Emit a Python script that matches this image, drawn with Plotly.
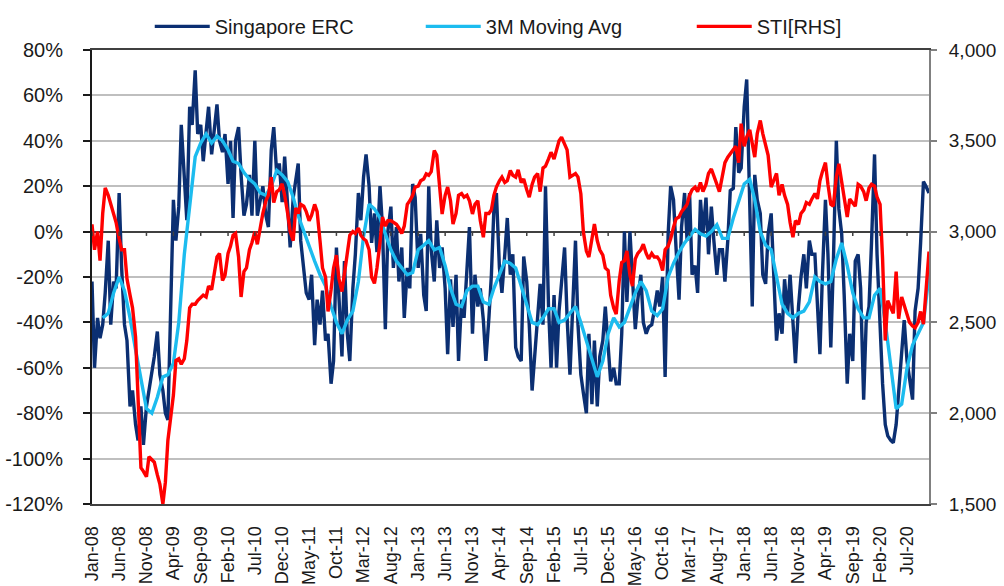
import pandas as pd
import plotly.graph_objects as go

# ---------------- data ----------------
# Singapore ERC (%), two readings per month from Jan-08, last one on 1-Nov-20
erc = [
    -22, -60, -38, -47, -41, -27, -4, -41, -22, -25, 17, -16,          # 2008 H1
    -41, -48, -77, -70, -85, -92, -77, -94, -77, -70, -63, -55,        # 2008 H2
    -44, -63, -70, -80, -83, -34, 14, -4, 11, 47, 25, 5,               # 2009 H1
    55, 47, 71, 43, 47, 31, 44, 55, 34, 45, 56, 40,                    # 2009 H2
    35, 43, 21, 40, 6, 40, 46, 25, 7, 12, 25, 7,                       # 2010 H1
    40, 7, 15, 20, 7, 2, 36, 46, 25, 30, 13, 33,                       # 2010 H2
    11, -7, 15, 22, 30, -4, -18, -27, -30, -19, -50, -30,              # 2011 H1
    -41, -26, -48, -45, -67, -57, -7, -30, -55, -13, -45, -57,         # 2011 H2
    -25, -10, 17, 5, 24, 34, 20, -5, 8, -9, 20, 2,                     # 2012 H1
    -43, 0, 11, -16, 2, -22, -7, -38, -16, -25, 21, 15,                # 2012 H2
    -16, -1, -28, -35, 20, -8, -22, 5, -16, -7, -25, -54,              # 2013 H1
    -21, -42, -19, -57, -30, -38, -13, 2, -45, -19, -33, -25,          # 2013 H2
    -39, -57, -38, -19, 10, 17, -16, -27, -10, 6, -19, -10,            # 2014 H1
    -51, -55, -57, -11, -22, -41, -70, -55, -33, -23, -41, 20,         # 2014 H2
    -33, -60, -28, -60, -35, -22, -7, -38, -63, -36, -4, -41,          # 2015 H1
    -63, -71, -80, -45, -76, -48, -77, -55, -48, -33, -51, -66,        # 2015 H2
    -60, -67, -67, -45, 0, -31, 0, -22, -43, -30, -19, -40,            # 2016 H1
    -45, -42, -41, -35, -26, -33, -20, -64, -1, 20, 14, -7,            # 2016 H2
    -30, 2, 17, -4, 17, -19, -15, -27, 14, -1, 15, -10,                # 2017 H1
    11, -4, -19, -8, -8, -22, -4, 18, 19, 46, 26, 28,                  # 2017 H2
    55, 67, 19, -33, 25, 14, 8, -19, -23, -1, 8, -22,                  # 2018 H1
    -48, -36, -45, -21, -36, -19, -40, -58, -33, -20, -10, -25,        # 2018 H2
    -4, -10, -10, -33, -54, -19, 14, -10, -51, -15, 40, 10,            # 2019 H1
    -1, -28, -67, -45, -57, -13, -10, -25, -74, -40, -33, -5,          # 2019 H2
    34, -10, -40, -67, -85, -90, -92, -93, -85, -70, -55, -39,         # 2020 H1
    -57, -65, -74, -35, -25, -5, 22, 20,                               # 2020 Jul-Oct
    17,                                                                # 1-Nov-20
]

# STI (index points, right axis), same dates as erc
sti = [
    3040, 2900, 3000, 2840, 3100, 3240, 3200, 3150, 3100, 3050, 2960, 2900,
    2900, 2740, 2650, 2580, 2420, 2050, 1700, 1680, 1650, 1760, 1740, 1730,
    1660, 1610, 1500, 1620, 1850, 1960, 2100, 2290, 2300, 2270, 2300, 2400,
    2580, 2600, 2600, 2620, 2640, 2650, 2640, 2700, 2680, 2760, 2860, 2880,
    2730, 2760, 2880, 2920, 2980, 2990, 2860, 2640, 2780, 2800, 2900, 2940,
    3000, 2930, 3030, 3100, 3170, 3200, 3300, 3160, 3220, 3230, 3263, 3200,
    3100, 3000, 2950, 3130, 3100, 3150, 3140, 3110, 3060, 3090, 3150, 3110,
    2950, 2800, 2750, 2560, 2680, 2800, 2870, 2740, 2670, 2780, 2900, 2980,
    3000, 2990, 3020, 2980, 2960, 2950, 2900, 2750, 2715, 2800, 2940, 3080,
    3030, 3060, 3060, 3050, 3040, 3020, 2990, 3030, 3150, 3170, 3200, 3245,
    3250, 3280, 3290, 3318, 3310, 3330, 3447, 3420, 3250, 3097, 3200, 3245,
    3170, 3042, 3100, 3200, 3210, 3190, 3200, 3170, 3097, 3150, 3170, 3060,
    2969, 3100, 3100, 3120, 3200, 3245, 3280, 3300, 3270, 3280, 3336, 3310,
    3300, 3340, 3270, 3290, 3230, 3190, 3260, 3300, 3320, 3220, 3350, 3360,
    3400, 3437, 3400, 3450, 3500, 3520, 3480, 3450, 3300, 3310, 3320, 3300,
    3208, 3000, 2893, 2860, 2950, 3042, 2950, 2900, 2870, 2800, 2785, 2650,
    2580, 2546, 2730, 2830, 2840, 2893, 2760, 2700, 2850, 2880, 2900, 2930,
    2880, 2850, 2880, 2860, 2860, 2840, 2785, 2900, 2920, 2960, 3024, 3070,
    3080, 3110, 3130, 3150, 3200, 3230, 3245, 3220, 3270, 3220, 3260, 3320,
    3345, 3300, 3260, 3220, 3300, 3380, 3410, 3430, 3450, 3470, 3380, 3594,
    3470, 3520, 3560, 3490, 3410, 3540, 3612, 3540, 3470, 3420, 3245, 3280,
    3320, 3200, 3260, 3200, 3150, 3050, 2969, 3060, 3040, 3100, 3120, 3160,
    3150, 3180, 3210, 3180, 3280, 3330, 3380, 3260, 3150, 3140, 3300, 3373,
    3280, 3180, 3080, 3180, 3160, 3140, 3260, 3250, 3220, 3170, 3240, 3260,
    3250, 3190, 3150, 2850, 2400, 2620, 2580, 2550, 2780, 2520, 2640, 2600,
    2540, 2500, 2480, 2470, 2500, 2560, 2490, 2650,
    2890,
]

# 3M moving average (%), monthly from Mar-08 to Nov-20
ma = [
    -38, -36, -27, -20, -26, -38, -52, -65, -78, -80,                  # Mar-Dec 08
    -73, -64, -63, -58, -40, -10, 10, 33, 39, 43, 39, 42,              # 2009
    40, 36, 31, 30, 26, 23, 21, 17, 16, 20, 27, 25,                    # 2010
    22, 15, 7, 0, -6, -13, -19, -24, -33, -40, -45, -39,               # 2011
    -35, -22, -2, 12, 10, 6, -1, -8, -13, -16, -19, -18,               # 2012
    -8, -6, -4, -8, -7, -15, -25, -32, -33, -26, -24, -24,             # 2013
    -31, -32, -25, -19, -13, -14, -16, -24, -32, -40, -41, -38,        # 2014
    -34, -34, -40, -39, -36, -33, -40, -48, -56, -64, -57, -45,        # 2015
    -38, -42, -40, -33, -27, -22, -26, -35, -37, -34, -20, -14,        # 2016
    -9, -5, -2, 1, -1, -2, 0, 3, -3, -3, 6, 13,                        # 2017
    21, 23, 14, 0, -6, -8, -20, -32, -36, -38, -36, -35,               # 2018
    -31, -20, -22, -23, -22, -12, -5, -15, -27, -34, -38, -38,         # 2019
    -28, -25, -40, -58, -78, -76, -60, -50, -45, -40, -19,             # Jan-Nov 20
]

left_ticks = [-120, -100, -80, -60, -40, -20, 0, 20, 40, 60, 80]
left_ticktext = ["-120%", "-100%", "-80%", "-60%", "-40%", "-20%",
                 "0%", "20%", "40%", "60%", "80%"]
right_ticks = [1500, 2000, 2500, 3000, 3500, 4000]
right_ticktext = ["1,500", "2,000", "2,500", "3,000", "3,500", "4,000"]

series_names = ["Singapore ERC", "3M Moving Avg", "STI[RHS]"]

# ---------------- figure ----------------
semi_dates = pd.date_range("2008-01-01", periods=len(erc), freq="SMS")
ma_dates = pd.date_range("2008-03-01", periods=len(ma), freq="MS")
tick_dates = pd.date_range("2008-01-01", "2020-07-01", freq="5MS")

FONT = "Liberation Sans, Arial, sans-serif"
TXT = "#1a1a1a"
NAVY = "#0b2f72"
LIGHT = "#1cbcef"
RED = "#ff0000"

fig = go.Figure()
fig.add_trace(go.Scatter(x=semi_dates, y=erc, name=series_names[0], mode="lines",
                         line=dict(color=NAVY, width=3.4)))
fig.add_trace(go.Scatter(x=ma_dates, y=ma, name=series_names[1], mode="lines",
                         line=dict(color=LIGHT, width=3.4)))
fig.add_trace(go.Scatter(x=semi_dates, y=sti, name=series_names[2], mode="lines",
                         line=dict(color=RED, width=3.4), yaxis="y2"))

# small tick marks hanging under the 0% axis line
for d in tick_dates:
    fig.add_shape(type="line", xref="x", yref="y", x0=d, x1=d, y0=0, y1=-1.9,
                  line=dict(color="#404040", width=1.5), layer="above")

fig.update_layout(
    width=1004, height=586,
    margin=dict(l=92, r=75, t=50, b=82, autoexpand=False),
    paper_bgcolor="white", plot_bgcolor="white",
    font=dict(family=FONT, size=20, color=TXT),
    showlegend=True,
    legend=dict(orientation="h", x=0.069, xanchor="left", y=1.052, yanchor="middle",
                font=dict(family=FONT, size=20, color=TXT),
                entrywidth=201, entrywidthmode="pixels", itemwidth=55,
                bgcolor="rgba(0,0,0,0)", tracegroupgap=0),
    xaxis=dict(type="date", range=["2008-01-01", "2020-11-01"],
               tickmode="array", tickvals=tick_dates, tickformat="%b-%y",
               tickangle=-90, ticks="", showgrid=False, zeroline=False,
               showline=True, linecolor="#404040", linewidth=2, mirror=True,
               ticklabelstandoff=13, automargin=False, tickfont=dict(size=18)),
    yaxis=dict(range=[-120, 80], tickmode="array", tickvals=left_ticks,
               ticktext=left_ticktext, showgrid=True, gridcolor="#bfbfbf",
               gridwidth=1.5, zeroline=True, zerolinecolor="#404040",
               zerolinewidth=2, showline=True, linecolor=TXT,
               linewidth=2, ticks="outside", ticklen=7, tickcolor=TXT,
               tickwidth=1.5, ticklabelstandoff=16, automargin=False,
               tickfont=dict(size=20)),
    yaxis2=dict(range=[1500, 4000], overlaying="y", side="right",
                tickmode="array", tickvals=right_ticks, ticktext=right_ticktext,
                showgrid=False, zeroline=False, showline=True,
                linecolor="#808080", linewidth=2, ticks="outside", ticklen=6,
                tickcolor="#808080", tickwidth=1.5, ticklabelstandoff=8,
                automargin=False, tickfont=dict(size=19)),
)

fig.write_html("out.html",
               config={"displayModeBar": False},
               post_script="document.body.style.margin='0px';"
                           "document.body.style.padding='0px';")
